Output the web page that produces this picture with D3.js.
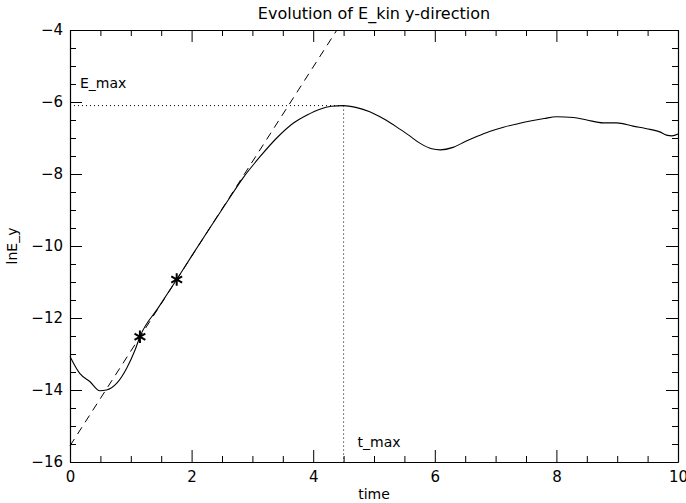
<!DOCTYPE html>
<html>
<head>
<meta charset="utf-8">
<script src="https://d3js.org/d3.v7.min.js"></script>
<style>
	body { margin: 0; background: #fff; }
	text { font-family: "DejaVu Sans", sans-serif; fill: #000; }
	.axis path, .axis line { stroke: #000; }
</style>
</head>
<body>
<svg id="chart" width="686" height="503"></svg>
<script>
// curve E_kin (time, lnE_y)
var times = [0, 0.16, 0.33, 0.49, 0.6, 0.77, 0.93, 1.07, 1.15, 1.45, 1.755, 2.0, 2.3, 2.6, 2.85, 3.125, 3.4, 3.67, 3.9, 4.11, 4.3, 4.5, 4.7, 4.93, 5.15, 5.37, 5.57, 5.76, 5.95, 6.09, 6.3, 6.5, 6.69, 6.9, 7.13, 7.35, 7.57, 7.8, 8.0, 8.28, 8.5, 8.77, 8.99, 9.26, 9.54, 9.7, 9.81, 9.9, 10];
var lnEy = [-13.07, -13.54, -13.77, -14.02, -14.0, -13.81, -13.4, -12.89, -12.52, -11.72, -10.93, -10.28, -9.5, -8.73, -8.1, -7.52, -7.0, -6.59, -6.36, -6.2, -6.12, -6.1, -6.15, -6.27, -6.46, -6.69, -6.92, -7.15, -7.3, -7.33, -7.26, -7.1, -6.96, -6.82, -6.7, -6.61, -6.53, -6.46, -6.41, -6.43, -6.5, -6.58, -6.58, -6.67, -6.76, -6.83, -6.92, -6.94, -6.89];

// fit points (asterisks) and the fitted line through them
var fitTimes = [1.15, 1.755];
var fitValues = [-12.52, -10.93];
var lineTimes = [0, 4.39];
var lineValues = [-15.55, -4];

var tMax = 4.5, eMax = -6.1;

var xTicks = [0, 2, 4, 6, 8, 10];
var yTicks = [-16, -14, -12, -10, -8, -6, -4];

var margin = {top: 30, right: 8, bottom: 41, left: 70};
var width = 686 - margin.left - margin.right,
	height = 503 - margin.top - margin.bottom;

var svg = d3.select("#chart");
var g = svg.append("g").attr("transform", "translate(" + margin.left + "," + margin.top + ")");

var x = d3.scaleLinear().domain([0, 10]).range([0, width]);
var y = d3.scaleLinear().domain([-16, -4]).range([height, 0]);

var xMinor = d3.range(0, 10.01, 0.5).filter(function (d) { return d % 2 !== 0; });
var yMinor = d3.range(-16, -3.99, 0.5).filter(function (d) { return d % 2 !== 0; });

function fmt(d) { return d < 0 ? "\u2212" + Math.abs(d) : "" + d; }

// major + minor ticks on all four sides, pointing inward
var axes = [
	[d3.axisBottom(x), "translate(0," + height + ")", xTicks, xMinor, 9, true],
	[d3.axisTop(x), "translate(0,0)", xTicks, xMinor, 9, false],
	[d3.axisLeft(y), "translate(0,0)", yTicks, yMinor, 7, true],
	[d3.axisRight(y), "translate(" + width + ",0)", yTicks, yMinor, 7, false]
];
axes.forEach(function (a) {
	var major = g.append("g").attr("class", "axis").attr("transform", a[1])
		.call(a[0].tickValues(a[2]).tickSizeInner(-12).tickSizeOuter(0).tickPadding(a[4])
			.tickFormat(a[5] ? fmt : ""));
	major.selectAll("text").style("font-size", "15px");
	var minor = g.append("g").attr("class", "axis").attr("transform", a[1])
		.call(a[0].tickValues(a[3]).tickSizeInner(-6).tickSizeOuter(0).tickFormat(""));
	minor.select(".domain").remove();
});
g.selectAll(".axis .domain").attr("stroke-width", 1.2);

// dotted guides for the maximum
g.append("line")
	.attr("x1", x(0)).attr("x2", x(tMax))
	.attr("y1", y(eMax)).attr("y2", y(eMax))
	.attr("stroke", "#000").attr("stroke-dasharray", "1,3");
g.append("line")
	.attr("x1", x(tMax)).attr("x2", x(tMax))
	.attr("y1", y(eMax)).attr("y2", y(-16))
	.attr("stroke", "#000").attr("stroke-dasharray", "1,3");

// dashed fit line
g.append("path")
	.datum(d3.zip(lineTimes, lineValues))
	.attr("fill", "none").attr("stroke", "#000").attr("stroke-dasharray", "8,6")
	.attr("d", d3.line().x(function (d) { return x(d[0]); }).y(function (d) { return y(d[1]); }));

// data curve
g.append("path")
	.datum(d3.zip(times, lnEy))
	.attr("fill", "none").attr("stroke", "#000").attr("stroke-width", 1.1)
	.attr("d", d3.line().curve(d3.curveMonotoneX)
		.x(function (d) { return x(d[0]); }).y(function (d) { return y(d[1]); }));

// asterisks
g.selectAll(".star")
	.data(d3.zip(fitTimes, fitValues))
	.enter().append("path")
	.attr("class", "star")
	.attr("transform", function (d) { return "translate(" + x(d[0]) + "," + y(d[1]) + ")"; })
	.attr("d", d3.symbol(d3.symbolAsterisk, 110))
	.attr("fill", "none").attr("stroke", "#000").attr("stroke-width", 2);

// labels
g.append("text").attr("x", 10).attr("y", y(eMax) - 18).style("font-size", "14px").text("E_max");
g.append("text").attr("x", x(tMax) + 14).attr("y", height - 15).style("font-size", "14px").text("t_max");

svg.append("text").attr("x", margin.left + width / 2).attr("y", 19)
	.attr("text-anchor", "middle").style("font-size", "16px").text("Evolution of E_kin y-direction");
svg.append("text").attr("x", margin.left + width / 2).attr("y", 499)
	.attr("text-anchor", "middle").style("font-size", "14px").text("time");
svg.append("text")
	.attr("transform", "translate(17," + (margin.top + height / 2) + ") rotate(-90)")
	.attr("text-anchor", "middle").style("font-size", "14px").text("lnE_y");
</script>
</body>
</html>
